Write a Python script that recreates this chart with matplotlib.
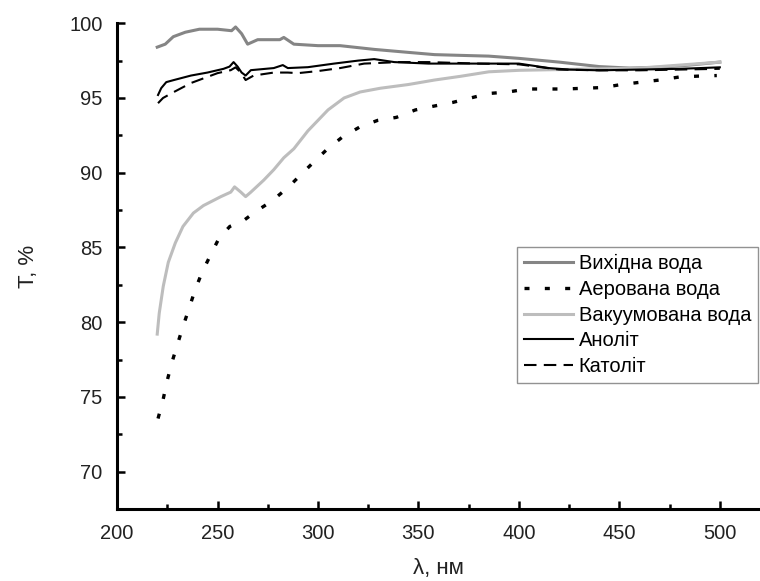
import matplotlib
matplotlib.use("Agg")
import matplotlib.pyplot as plt
from matplotlib.ticker import MultipleLocator

plt.rcParams['font.family'] = ['Liberation Sans', 'DejaVu Sans']
plt.rcParams['font.size'] = 14

# --- data ---
# Вихідна вода
wl_src = [220, 224, 228, 234, 241, 250, 257, 259, 262, 265, 270, 281, 283, 288, 300,
          311, 328, 345, 358, 371, 385, 400, 420, 440, 455, 470, 485, 500]
t_src = [98.4, 98.6, 99.1, 99.4, 99.6, 99.6, 99.5, 99.75, 99.3, 98.6, 98.9, 98.9, 99.05, 98.6, 98.5,
         98.5, 98.25, 98.05, 97.9, 97.85, 97.8, 97.65, 97.4, 97.1, 97.0, 97.05, 97.2, 97.4]

# Аерована вода
wl_aer = [220.4, 222.9, 224.8, 227.3, 229.8, 232.8, 235.8, 238.7, 242.2, 246.2, 250.7, 256.1,
          263, 269, 277, 285, 291, 297.4, 304.8, 312.3, 320.7, 329.7, 339, 348.5, 357.5, 367,
          376, 385, 394.7, 404, 413.6, 423, 432.5, 442, 451, 461, 470, 479.7, 489, 498.5]
t_aer = [73.55, 74.8, 76.0, 77.3, 78.4, 79.7, 80.9, 82.1, 83.3, 84.4, 85.6, 86.4,
         86.8, 87.4, 88.1, 89.0, 89.8, 90.65, 91.6, 92.4, 93.05, 93.5, 93.7, 94.2, 94.45, 94.7,
         95.0, 95.3, 95.4, 95.6, 95.6, 95.6, 95.65, 95.7, 95.9, 96.06, 96.2, 96.4, 96.46, 96.5]

# Вакуумована вода
wl_vac = [220, 221, 223, 225.5, 229, 232.8, 238, 243, 251.7, 256.6, 258.5, 261.6, 264, 266.6,
          273, 278, 283, 288, 295, 305, 313, 321, 331, 345, 358, 371, 385, 400, 420, 440,
          460, 480, 500]
t_vac = [79.2, 80.6, 82.4, 84.0, 85.3, 86.4, 87.3, 87.8, 88.4, 88.7, 89.05, 88.7, 88.4, 88.7,
         89.5, 90.2, 91.0, 91.6, 92.8, 94.2, 95.0, 95.4, 95.65, 95.9, 96.2, 96.45, 96.75, 96.85, 96.9, 96.95,
         97.0, 97.2, 97.4]

# Аноліт
wl_an = [220.4, 222, 224.5, 228.3, 236.8, 245, 253, 256, 258, 260, 262, 264, 266.6, 278,
         282.5, 285, 295, 308, 320, 328, 338, 355, 380, 400, 415, 425, 440, 460, 480, 500]
t_an = [95.2, 95.66, 96.06, 96.2, 96.5, 96.7, 96.95, 97.1, 97.4, 97.1, 96.7, 96.5, 96.86, 97.0,
        97.2, 97.0, 97.06, 97.3, 97.5, 97.6, 97.4, 97.3, 97.3, 97.3, 97.0, 96.9, 96.85, 96.9, 96.95, 97.05]

# Католіт
wl_cat = [220.4, 222.9, 228.3, 236.8, 250, 256.6, 259, 261.6, 264, 268, 278, 285, 290, 300,
          311, 323, 340, 355, 380, 400, 420, 440, 460, 480, 500]
t_cat = [94.65, 95.0, 95.4, 96.0, 96.66, 96.86, 97.05, 96.7, 96.2, 96.5, 96.7, 96.7, 96.66, 96.8,
         97.0, 97.3, 97.4, 97.4, 97.3, 97.25, 96.9, 96.85, 96.85, 96.9, 96.95]

labels = ['Вихідна вода', 'Аерована вода', 'Вакуумована вода', 'Аноліт', 'Католіт']

fig = plt.figure(figsize=(7.6, 5.81), dpi=100)
ax = fig.add_axes([0.154, 0.124, 0.846, 0.836])

ax.plot(wl_src, t_src, color='#858585', lw=2.2, label=labels[0])
ax.plot(wl_aer, t_aer, color='black', lw=2.4, linestyle=(0, (1.5, 4.6)), label=labels[1])
ax.plot(wl_vac, t_vac, color='#bdbdbd', lw=2.2, label=labels[2])
ax.plot(wl_an, t_an, color='black', lw=1.5, label=labels[3])
ax.plot(wl_cat, t_cat, color='black', lw=1.5, linestyle=(0, (6.0, 3.5)), label=labels[4])

ax.set_xlim(200, 520)
ax.set_ylim(67.5, 100)
ax.xaxis.set_minor_locator(MultipleLocator(25))
ax.yaxis.set_minor_locator(MultipleLocator(2.5))
ax.set_yticks([70, 75, 80, 85, 90, 95, 100])
ax.set_xticks([200, 250, 300, 350, 400, 450, 500])

for s in ['top', 'right']:
    ax.spines[s].set_visible(False)
for s in ['left', 'bottom']:
    ax.spines[s].set_linewidth(2.2)

ax.tick_params(which='major', direction='in', length=6, width=1.8, labelsize=14.5,
               labelcolor='#222222')
ax.tick_params(axis='y', which='major', pad=10.5)
ax.tick_params(axis='x', which='major', pad=11)
ax.tick_params(which='minor', direction='in', length=3.5, width=1.8)

ax.set_xlabel('λ, нм', fontsize=16, color='#222222')
ax.set_ylabel('T, %', fontsize=16, color='#222222')
ax.xaxis.set_label_coords(0.5, -0.1)
ax.yaxis.set_label_coords(-0.122, 0.5)

leg = ax.legend(loc='upper left', bbox_to_anchor=(0.6227, 0.539), fontsize=14.5,
                frameon=True, fancybox=False, borderaxespad=0, borderpad=0.35,
                handlelength=2.4, handletextpad=0.3, labelspacing=0.33)
leg.get_frame().set_edgecolor('#777777')
leg.get_frame().set_linewidth(1.0)

fig.savefig('out.png', dpi=100)
